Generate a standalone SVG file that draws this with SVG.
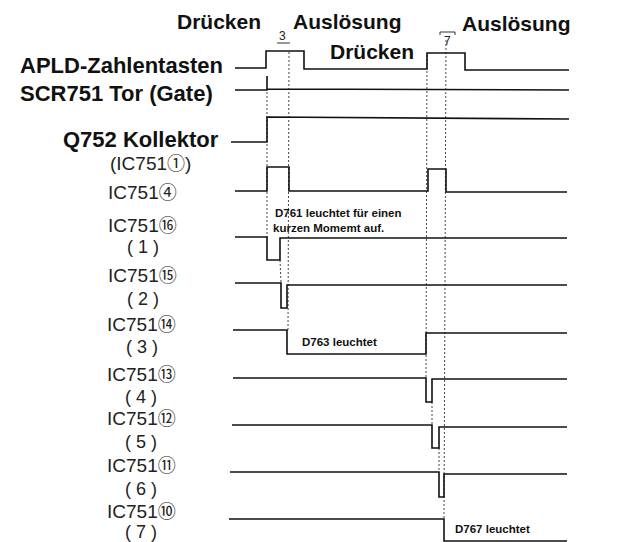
<svg xmlns="http://www.w3.org/2000/svg" width="621" height="542" viewBox="0 0 621 542">
<style>
.h{font-family:"Liberation Sans",Arial,sans-serif;font-weight:bold;font-size:21px;fill:#111}
.lb{font-family:"Liberation Sans",Arial,sans-serif;font-weight:bold;font-size:22px;fill:#111}
.ic{font-family:"Liberation Sans","DejaVu Sans",sans-serif;font-size:19px;fill:#222}
.c{font-family:"Noto Sans CJK JP","DejaVu Sans",sans-serif;font-size:18px}
.pn{font-family:"Liberation Sans",sans-serif;font-size:18px;fill:#222;letter-spacing:5px}
.sm{font-family:"Liberation Sans",Arial,sans-serif;font-weight:bold;font-size:11.5px;fill:#111}
.w{fill:none;stroke:#111;stroke-width:1.6}
.d{fill:none;stroke:#444;stroke-width:1;stroke-dasharray:2,2}
.t{fill:none;stroke:#333;stroke-width:1}
.n{font-family:"Liberation Sans",sans-serif;font-size:12px;fill:#222}
</style>
<rect width="621" height="542" fill="#fff"/>
<g id="headers">
<text class="h" x="177" y="29">Drücken</text>
<text class="h" x="293" y="29">Auslösung</text>
<text class="h" x="330" y="59">Drücken</text>
<text class="h" x="462" y="31">Auslösung</text>
<text class="n" x="279" y="40">3</text>
<line class="t" x1="277" y1="43" x2="290" y2="43"/>
<text class="n" x="444" y="45">7</text>
<path class="t" d="M440,35 V32 H455 V35"/>
</g>
<g id="connectors">
<line class="d" x1="267" y1="92" x2="267" y2="237"/>
<line class="d" x1="289" y1="52" x2="288" y2="330"/>
<line class="d" x1="280" y1="260" x2="281" y2="283"/>
<line class="d" x1="427" y1="55" x2="426" y2="378"/>
<line class="d" x1="446" y1="40" x2="444" y2="519"/>
<line class="d" x1="432" y1="402" x2="432" y2="425"/>
<line class="d" x1="439" y1="448" x2="439" y2="472"/>
</g>
<g id="apld">
<text class="lb" x="20" y="73">APLD-Zahlentasten</text>
<path class="w" d="M235,68 H266 V51 H304 V69 H427 V53 H465 V70 H569"/>
</g>
<g id="scr751">
<text class="lb" x="20" y="101">SCR751 Tor (Gate)</text>
<path class="w" d="M235,90 H267 V76 M267,89 L569,90"/>
</g>
<g id="q752">
<text class="lb" x="63" y="147">Q752 Kollektor</text>
<text class="ic" x="110" y="170" font-size="18">(IC751<tspan class="c">①</tspan>)</text>
<path class="w" d="M231,142 H267 V117 L569,119"/>
</g>
<g id="ic751-4">
<text class="ic" x="108" y="199">IC751<tspan class="c">④</tspan></text>
<path class="w" d="M235,191 H267 V167 H289 V191 H428 V169 H446 V192 H567"/>
</g>
<g id="ic751-16">
<text class="ic" x="108" y="232">IC751<tspan class="c">⑯</tspan></text>
<text class="pn" x="127" y="253">(1)</text>
<text class="sm" x="275" y="217">D761 leuchtet für einen</text>
<text class="sm" x="273" y="232">kurzen Momemt auf.</text>
<path class="w" d="M235,237 H267 V260 H280 V238 H567"/>
</g>
<g id="ic751-15">
<text class="ic" x="108" y="282">IC751<tspan class="c">⑮</tspan></text>
<text class="pn" x="127" y="305">(2)</text>
<path class="w" d="M235,283 H281 V308 H287 V285 H567"/>
</g>
<g id="ic751-14">
<text class="ic" x="107" y="331">IC751<tspan class="c">⑭</tspan></text>
<text class="pn" x="126" y="353">(3)</text>
<text class="sm" x="302" y="346">D763 leuchtet</text>
<path class="w" d="M233,330 H287 V354 H426 V333 H567"/>
</g>
<g id="ic751-13">
<text class="ic" x="107" y="381">IC751<tspan class="c">⑬</tspan></text>
<text class="pn" x="125" y="403">(4)</text>
<path class="w" d="M233,378 H426 V402 H432 V379 H567"/>
</g>
<g id="ic751-12">
<text class="ic" x="107" y="425">IC751<tspan class="c">⑫</tspan></text>
<text class="pn" x="125" y="448">(5)</text>
<path class="w" d="M232,425 H432 V448 H439 V427 H567"/>
</g>
<g id="ic751-11">
<text class="ic" x="107" y="472">IC751<tspan class="c">⑪</tspan></text>
<text class="pn" x="125" y="495">(6)</text>
<path class="w" d="M230,472 H439 V497 H444 V474 H567"/>
</g>
<g id="ic751-10">
<text class="ic" x="107" y="518">IC751<tspan class="c">⑩</tspan></text>
<text class="pn" x="125" y="538">(7)</text>
<text class="sm" x="455" y="533">D767 leuchtet</text>
<path class="w" d="M229,519 H444 V541 H567"/>
</g>
</svg>
